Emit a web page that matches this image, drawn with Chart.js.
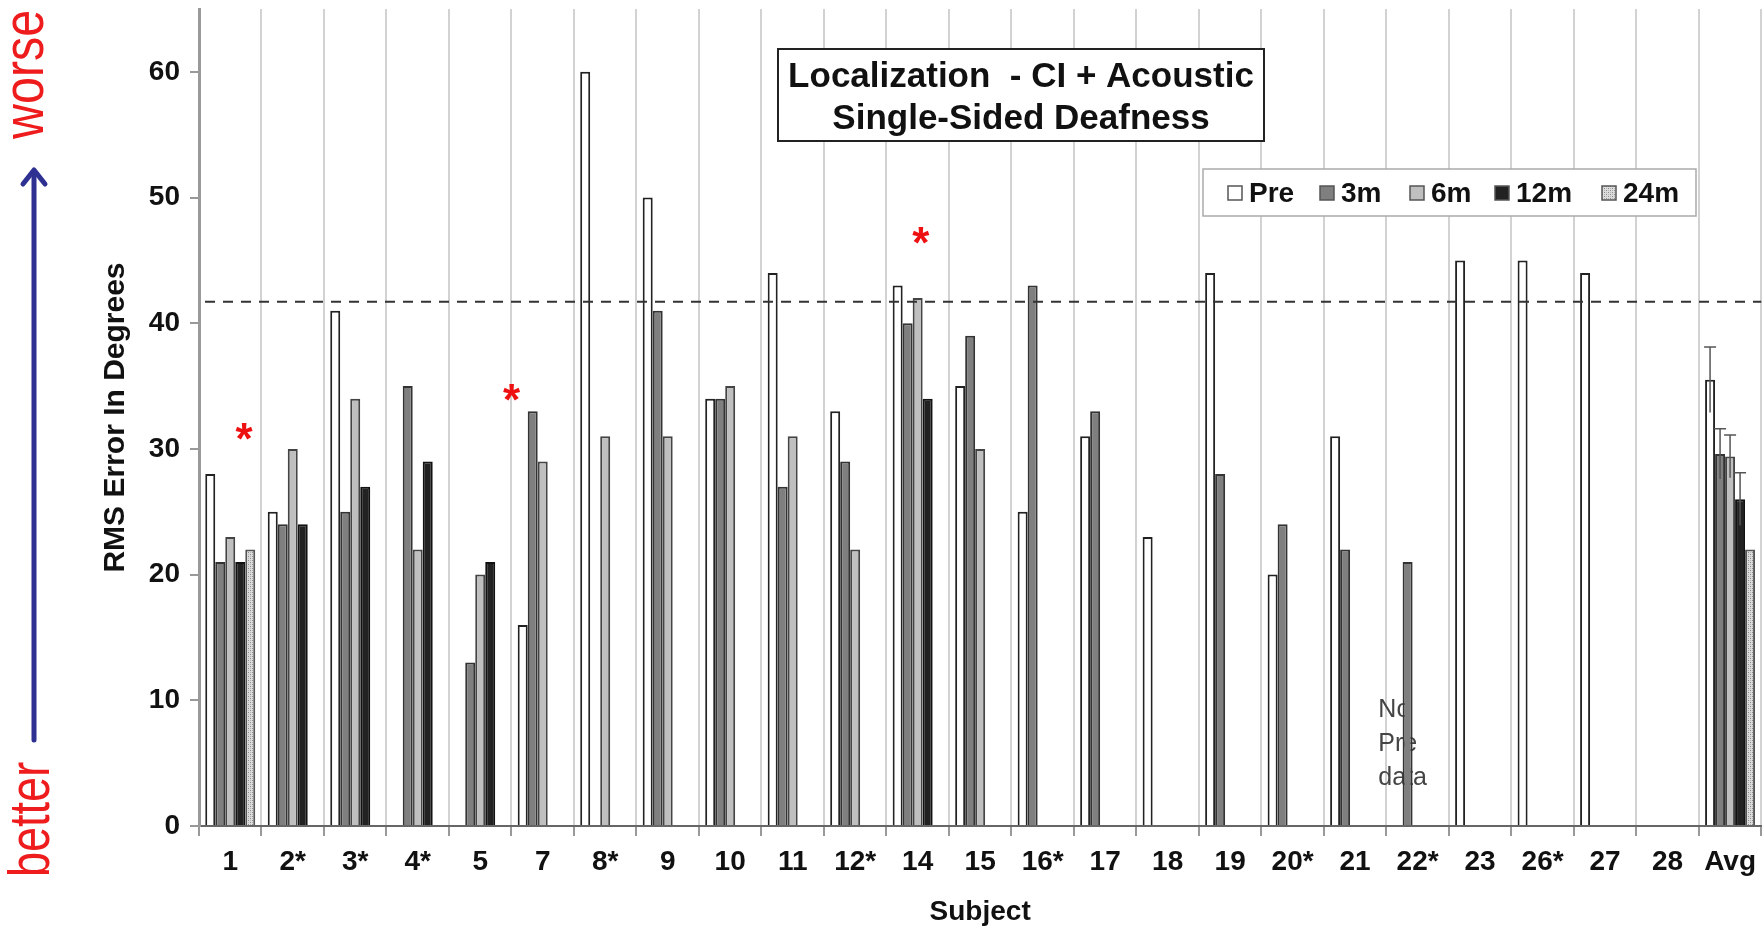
<!DOCTYPE html>
<html><head><meta charset="utf-8">
<script src="https://cdn.jsdelivr.net/npm/chart.js@4/dist/chart.umd.min.js"></script>
<style>html,body{margin:0;padding:0;background:#fff;overflow:hidden}#wrap{position:relative;width:1765px;height:926px}</style>
</head><body><div id="wrap"><canvas id="c"></canvas></div>
<script>
// ---- data ----
const subjects = ['1','2*','3*','4*','5','7','8*','9','10','11','12*','14','15','16*','17','18','19','20*','21','22*','23','26*','27','28','Avg'];
const seriesNames = ['Pre','3m','6m','12m','24m'];
const preValues = [28,25,41,null,null,16,60,50,34,44,33,43,35,25,31,23,44,20,31,null,45,45,44,null,35.5];
const m3Values  = [21,24,25,35,13,33,null,41,34,27,29,40,39,43,33,null,28,24,22,21,null,null,null,null,29.6];
const m6Values  = [23,30,34,22,20,29,31,31,35,31,22,42,30,null,null,null,null,null,null,null,null,null,null,null,29.4];
const m12Values = [21,24,27,29,21,null,null,null,null,null,null,34,null,null,null,null,null,null,null,null,null,null,null,null,26.0];
const m24Values = [22,null,null,null,null,null,null,null,null,null,null,null,null,null,null,null,null,null,null,null,null,null,null,null,22];
const avgErrors = [2.6,2.0,1.7,2.1,null];
const yTickValues = [0,10,20,30,40,50,60];
const referenceLine = 41.7;
const titleLines = ['Localization  - CI + Acoustic','Single-Sided Deafness'];
const noteLines = ['No','Pre','data'];
const noteAnchor = {category:'22*', values:[9.2,6.5,3.8]};
const starCategories = [0.22, 4.5, 11.05];
const starValues = [31.2, 34.3, 46.8];

// ---- styles ----
function makePattern(){
  const p=document.createElement('canvas'); p.width=4; p.height=4;
  const g=p.getContext('2d');
  g.fillStyle='#dcdcdc'; g.fillRect(0,0,4,4);
  g.fillStyle='#8c8c8c'; g.fillRect(0,0,1,1); g.fillRect(2,2,1,1);
  g.fillStyle='#b4b4b4'; g.fillRect(2,0,1,1); g.fillRect(0,2,1,1);
  return g.createPattern(p,'repeat');
}
const pat = makePattern();
const fills = ['#ffffff','#7f7f7f','#bfbfbf','#222222',pat];
const borders = ['#222','#333','#444','#111','#555'];
const allValues=[preValues,m3Values,m6Values,m12Values,m24Values];
const FONT='"Liberation Sans", Arial, sans-serif';

const datasets = seriesNames.map((n,i)=>({
  label:n, data:allValues[i], backgroundColor:fills[i], borderColor:borders[i], borderWidth:2,
  categoryPercentage:0.8, barPercentage:1.0, borderSkipped:'bottom'
}));

const overlay = {
  id:'overlay',
  afterDatasetsDraw(chart){
    const ctx=chart.ctx, x=chart.scales.x, y=chart.scales.y, ca=chart.chartArea;
    ctx.save();
    const lastIdx=subjects.length-1;
    avgErrors.forEach((e,i)=>{
      if(e==null) return;
      const m=chart.getDatasetMeta(i).data[lastIdx];
      const v=allValues[i][lastIdx];
      const cx=m.x, y1=y.getPixelForValue(v+e), y0=y.getPixelForValue(v-e);
      ctx.strokeStyle='#555'; ctx.lineWidth=1.5;
      ctx.beginPath(); ctx.moveTo(cx,y0); ctx.lineTo(cx,y1);
      ctx.moveTo(cx-6,y1); ctx.lineTo(cx+6,y1); ctx.stroke();
    });
    const ry=y.getPixelForValue(referenceLine);
    ctx.setLineDash([10,8]); ctx.strokeStyle='#333'; ctx.lineWidth=2;
    ctx.beginPath(); ctx.moveTo(ca.left+6,ry); ctx.lineTo(ca.right,ry); ctx.stroke();
    ctx.setLineDash([]);
    // title box
    ctx.fillStyle='#fff'; ctx.fillRect(778,49,486,92);
    ctx.strokeStyle='#222'; ctx.lineWidth=2; ctx.strokeRect(778,49,486,92);
    ctx.fillStyle='#111'; ctx.font='bold 35px '+FONT;
    ctx.textAlign='center'; ctx.textBaseline='middle';
    ctx.fillText(titleLines[0],1021,77); ctx.fillText(titleLines[1],1021,119);
    // legend box
    ctx.fillStyle='#fff'; ctx.fillRect(1203,169,493,47);
    ctx.strokeStyle='#aaa'; ctx.lineWidth=1.5; ctx.strokeRect(1203,169,493,47);
    const lx=[1228,1320,1410,1495,1602];
    ctx.font='bold 28px '+FONT; ctx.textAlign='left';
    seriesNames.forEach((n,i)=>{
      ctx.fillStyle=fills[i]; ctx.fillRect(lx[i],186,14,14);
      ctx.strokeStyle='#555'; ctx.lineWidth=1.5; ctx.strokeRect(lx[i],186,14,14);
      ctx.fillStyle='#111'; ctx.fillText(n,lx[i]+21,194);
    });
    // red asterisks
    ctx.fillStyle='#ee1111'; ctx.font='bold 44px '+FONT;
    ctx.textAlign='center'; ctx.textBaseline='alphabetic';
    const step=x.getPixelForValue(1)-x.getPixelForValue(0);
    starCategories.forEach((c,i)=>{
      const px=x.getPixelForValue(Math.floor(c))+(c-Math.floor(c))*step;
      ctx.fillText('*',px,y.getPixelForValue(starValues[i])+20);
    });
    ctx.restore();
  },
  beforeDatasetsDraw(chart){
    const ctx=chart.ctx, x=chart.scales.x, y=chart.scales.y;
    ctx.save();
    const idx=subjects.indexOf(noteAnchor.category);
    const half=(x.getPixelForValue(1)-x.getPixelForValue(0))/2;
    const lx=x.getPixelForValue(idx)-half-8;
    ctx.fillStyle='#444'; ctx.font='25px '+FONT;
    ctx.textAlign='left'; ctx.textBaseline='middle';
    noteLines.forEach((t,i)=>ctx.fillText(t,lx,y.getPixelForValue(noteAnchor.values[i])));
    ctx.restore();
  },
  afterDraw(chart){
    const ctx=chart.ctx;
    ctx.save();
    ctx.strokeStyle='#2e3192'; ctx.lineWidth=5; ctx.lineCap='round'; ctx.lineJoin='round';
    ctx.beginPath(); ctx.moveTo(34,740); ctx.lineTo(34,172); ctx.stroke();
    ctx.beginPath(); ctx.moveTo(23,184); ctx.lineTo(34,170); ctx.lineTo(45,184); ctx.stroke();
    ctx.fillStyle='#ee1c1c'; ctx.font='57px '+FONT;
    ctx.textBaseline='alphabetic'; ctx.textAlign='left';
    ctx.save(); ctx.translate(43,139); ctx.rotate(-Math.PI/2); ctx.scale(0.85,1); ctx.fillText('worse',0,0); ctx.restore();
    ctx.save(); ctx.translate(49,877); ctx.rotate(-Math.PI/2); ctx.scale(0.79,1); ctx.fillText('better',0,0); ctx.restore();
    ctx.restore();
  }
};

new Chart(document.getElementById('c'),{
  type:'bar',
  data:{labels:subjects, datasets},
  options:{
    responsive:true, maintainAspectRatio:false, animation:false,
    layout:{padding:{left:94,top:9,right:0,bottom:0}},
    plugins:{legend:{display:false}, tooltip:{enabled:false}},
    scales:{
      x:{
        grid:{offset:true, color:'#d2d2d2', lineWidth:2, tickLength:10, tickColor:'#999', drawOnChartArea:true},
        border:{color:'#666', width:2},
        ticks:{color:'#111', padding:9, font:{family:FONT, weight:'bold', size:28}, maxRotation:0, autoSkip:false},
        title:{display:true, text:'Subject', color:'#111', padding:{top:0,bottom:-3}, font:{family:FONT, weight:'bold', size:28}},
        afterFit(s){ s.height=100; }
      },
      y:{
        min:0, max:65,
        afterBuildTicks(s){ s.ticks = yTickValues.map(v=>({value:v})); },
        grid:{drawOnChartArea:false, tickLength:9, color:'#999', lineWidth:2},
        border:{color:'#999', width:3},
        ticks:{color:'#111', padding:10, font:{family:FONT, weight:'bold', size:28}},
        title:{display:true, text:'RMS Error In Degrees', color:'#111', font:{family:FONT, weight:'bold', size:30}},
        afterFit(s){ s.width=105; s.paddingTop=0; s.paddingBottom=0; }
      }
    }
  },
  plugins:[overlay]
});
</script></body></html>
